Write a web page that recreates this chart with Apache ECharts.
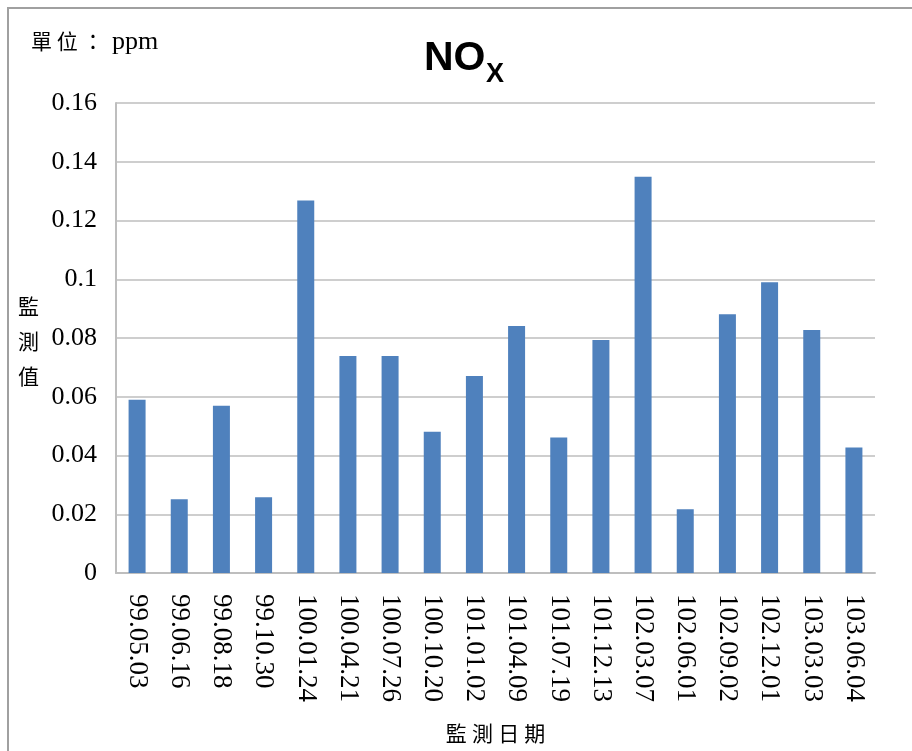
<!DOCTYPE html>
<html>
<head>
<meta charset="utf-8">
<script src="https://cdn.jsdelivr.net/npm/echarts@6/dist/echarts.min.js"></script>
<style>html,body{margin:0;padding:0;background:#fff;}#c{width:912px;height:751px;}</style>
</head>
<body>
<div id="c"></div>
<script>
var categories = ['99.05.03','99.06.16','99.08.18','99.10.30','100.01.24','100.04.21','100.07.26','100.10.20','101.01.02','101.04.09','101.07.19','101.12.13','102.03.07','102.06.01','102.09.02','102.12.01','103.03.03','103.06.04'];
var values = [0.059,0.0251,0.0569,0.0258,0.1268,0.0739,0.0739,0.0481,0.0671,0.0841,0.0461,0.0793,0.1349,0.0217,0.0881,0.0990,0.0827,0.0427];
var yTicks = {min: 0, max: 0.16, interval: 0.02};
var titleMain = 'NO', titleSub = 'X';
var unitLabel = '單 位 ：', unitValue = 'ppm';
var yName = ['監','測','值'];
var xName = '監 測 日 期';

var serif = "'Liberation Serif','Noto Sans CJK TC',serif";
var chart = echarts.init(document.getElementById('c'), null, {renderer: 'canvas'});
var yNameEls = yName.map(function (ch, i) {
  return {type: 'text', left: 18, top: 296 + i * 35,
    style: {text: ch, font: "21px 'Noto Sans CJK TC'", fill: '#000'}};
});
chart.setOption({
  animation: false,
  backgroundColor: '#fff',
  grid: {left: 116, right: 37, top: 103, bottom: 176, containLabel: false},
  xAxis: {
    type: 'category', data: categories,
    axisLine: {lineStyle: {color: '#BEBEBE', width: 2}},
    axisTick: {show: false},
    axisLabel: {rotate: -90, margin: 21, fontSize: 27, fontFamily: serif, color: '#000', interval: 0},
    name: xName, nameLocation: 'middle', nameGap: 152,
    nameTextStyle: {fontSize: 21, fontFamily: serif, color: '#000'}
  },
  yAxis: {
    type: 'value', min: yTicks.min, max: yTicks.max, interval: yTicks.interval,
    axisLine: {show: true, lineStyle: {color: '#BEBEBE', width: 2}},
    axisTick: {show: false},
    splitLine: {lineStyle: {color: '#BEBEBE', width: 1.5}},
    axisLabel: {margin: 19, fontSize: 26, fontFamily: serif, color: '#000'}
  },
  series: [{
    type: 'bar', data: values, barWidth: 17,
    itemStyle: {color: '#4F81BD'}
  }],
  graphic: [
    {type: 'rect', shape: {x: 8, y: 8, width: 1200, height: 1200},
      style: {fill: 'none', stroke: '#A0A0A0', lineWidth: 2}, silent: true},
    {type: 'text', left: 31, top: 31,
      style: {text: unitLabel, font: "21px 'Noto Sans CJK TC'", fill: '#000'}},
    {type: 'text', left: 112, top: 29,
      style: {text: unitValue, font: "26px 'Liberation Serif'", fill: '#000'}},
    {type: 'text', left: 424, top: 38,
      style: {text: titleMain, font: "bold 41px 'Liberation Sans'", fill: '#000'}},
    {type: 'text', left: 486, top: 61,
      style: {text: titleSub, font: "bold 27px 'Liberation Sans'", fill: '#000'}}
  ].concat(yNameEls)
});
</script>
</body>
</html>
